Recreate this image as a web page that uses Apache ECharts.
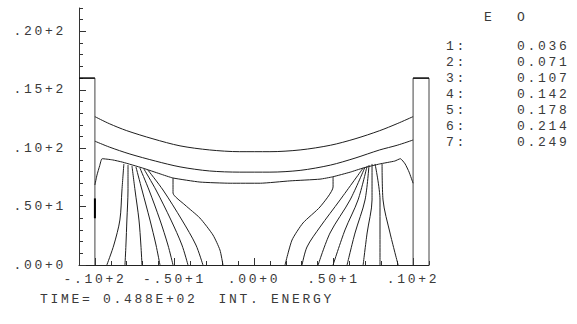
<!DOCTYPE html>
<html><head><meta charset="utf-8">
<script src="https://cdn.jsdelivr.net/npm/echarts@6/dist/echarts.min.js"></script>
<style>
html,body{margin:0;padding:0;background:#fff;}
#c{width:577px;height:324px;}
#c text{letter-spacing:2.7px;}
</style></head>
<body><div id="c"></div>
<script>
// ---- data ----
const xRange = [-11, 11];
const yRange = [0, 22];
const xTickValues = [-10, -5, 0, 5, 10];
const xTickLabels = ['-.10+2', '-.50+1', '.00+0', '.50+1', '.10+2'];
const yTickValues = [0, 5, 10, 15, 20];
const yTickLabels = ['.00+0', '.50+1', '.10+2', '.15+2', '.20+2'];
const legendHeader = ['E', 'O'];
const levelIds = ['1:', '2:', '3:', '4:', '5:', '6:', '7:'];
const levelValues = ['0.036', '0.071', '0.107', '0.142', '0.178', '0.214', '0.249'];
const titleText = 'TIME= 0.488E+02  INT. ENERGY';

const leftWall = [[-11, 16], [-10, 16], [-10, 0]];
const rightWall = [[10, 0], [10, 16], [11, 16], [11, 0]];
const leftMark = [[-10, 4.0], [-10, 5.7]];

const arc1 = [[-10,12.7],[-9.1,12.1],[-8,11.5],[-6.35,10.8],[-4.65,10.2],[-2.8,9.85],[-0.9,9.7],[1,9.7],[2.9,9.85],[4.8,10.25],[6.35,10.8],[7.9,11.5],[9,12.1],[10,12.7]];
const arc2 = [[-10,10.6],[-9.1,10.1],[-7.8,9.5],[-6.2,8.9],[-4.65,8.4],[-2.8,8.05],[-0.9,7.95],[1,7.95],[2.9,8.1],[4.8,8.55],[6.35,9.15],[7.9,9.85],[9,10.25],[10,10.7]];
const arc3 = [[-10,6.85],[-9.87,7.7],[-9.7,8.5],[-9.55,9.1],[-8.9,9.0],[-8.25,8.8],[-7,8.3],[-5.9,7.8],[-5.1,7.45],[-3.4,7.1],[-1.5,7.0],[0.4,7.0],[2.25,7.2],[4.15,7.35],[4.95,7.55],[6.05,7.95],[6.85,8.3],[7.9,8.65],[8.85,8.9],[9.2,9.1],[9.5,8.65],[9.75,7.95],[10,7.0]];

const leftFan = [
  [[-8.18,8.65],[-8.3,6.42],[-8.43,3.85],[-8.81,1.71],[-9.25,0]],
  [[-7.92,8.56],[-7.92,6.42],[-7.99,3.85],[-8.05,1.71],[-8.11,0]],
  [[-7.67,8.48],[-7.48,6.42],[-7.23,3.85],[-7.11,1.71],[-7.04,0]],
  [[-7.42,8.39],[-7.04,6.42],[-6.54,3.85],[-6.16,1.71],[-5.91,0]],
  [[-7.17,8.3],[-6.6,6.42],[-5.91,3.85],[-5.41,1.71],[-5.09,0]],
  [[-6.92,8.22],[-6.16,6.42],[-5.22,3.85],[-4.53,1.71],[-4.15,0]],
  [[-6.67,8.13],[-5.72,6.42],[-4.53,3.85],[-3.65,1.71],[-3.21,0]]
];
const leftNotch = [[-5.09,7.45],[-5.09,6.16],[-4.34,5.14],[-3.4,4.02],[-2.58,2.57],[-2.14,1.28],[-1.95,0]];

const rightFan = [
  [[6.86,8.3],[5.41,5.57],[4.15,3.25],[3.33,1.54],[3.02,0]],
  [[6.98,8.39],[6.04,5.57],[4.78,2.74],[4.03,0]],
  [[7.11,8.48],[6.54,5.57],[5.72,3.0],[4.97,0]],
  [[7.23,8.56],[6.98,5.57],[6.35,2.74],[5.85,0]],
  [[7.42,8.65],[7.42,5.57],[7.11,2.74],[6.86,0]],
  [[7.61,8.65],[7.92,5.57],[7.92,2.74],[7.92,0]],
  [[8.05,8.65],[8.11,5.57],[8.55,2.74],[9.06,0]]
];
const rightNotch = [[4.97,7.53],[4.97,6.68],[4.15,4.97],[3.08,3.6],[2.39,2.14],[1.95,0]];

// ---- chart ----
const FONT = 'Liberation Mono';
const TXT = '#3a3a3a';
const LINE = '#1e1e1e';
function lineSeries(data, opt) {
  return Object.assign({
    type: 'line', data: data, symbol: 'none', silent: true,
    xAxisIndex: 0, yAxisIndex: 0, smooth: 0.3,
    lineStyle: { color: LINE, width: 1 }
  }, opt || {});
}
const series = [];
series.push(lineSeries(leftWall, { smooth: false, lineStyle: { color: '#444', width: 1 } }));
series.push(lineSeries(rightWall, { smooth: false, lineStyle: { color: '#444', width: 1 } }));
series.push(lineSeries([leftWall[0], leftWall[1]], { smooth: false, lineStyle: { color: '#000', width: 1.3 } }));
series.push(lineSeries([rightWall[1], rightWall[2]], { smooth: false, lineStyle: { color: '#000', width: 1.3 } }));
series.push(lineSeries(leftMark, { smooth: false, lineStyle: { color: '#000', width: 2 } }));
series.push(lineSeries(arc1));
series.push(lineSeries(arc2));
series.push(lineSeries(arc3, { smooth: 0.15 }));
leftFan.forEach(f => series.push(lineSeries(f)));
rightFan.forEach(f => series.push(lineSeries(f)));
series.push(lineSeries(leftNotch, { smooth: 0.2 }));
series.push(lineSeries(rightNotch, { smooth: 0.2 }));

const graphics = [];
graphics.push({ type: 'text', left: 484, top: 11, style: { text: legendHeader[0], font: '13px ' + FONT, fill: TXT } });
graphics.push({ type: 'text', left: 517, top: 11, style: { text: legendHeader[1], font: '13px ' + FONT, fill: TXT } });
levelIds.forEach((id, i) => {
  graphics.push({ type: 'text', left: 446, top: 40 + i * 16, style: { text: id, font: '13px ' + FONT, fill: TXT } });
  graphics.push({ type: 'text', left: 517, top: 40 + i * 16, style: { text: levelValues[i], font: '13px ' + FONT, fill: TXT } });
});
graphics.push({ type: 'text', left: 40, top: 293, style: { text: titleText, font: '13px ' + FONT, fill: TXT } });

const chart = echarts.init(document.getElementById('c'), null, { renderer: 'svg' });
chart.setOption({
  animation: false,
  backgroundColor: '#fff',
  grid: { left: 79, right: 148, top: 8, bottom: 59 },
  xAxis: [
    { type: 'value', min: xRange[0], max: xRange[1], position: 'bottom',
      splitLine: { show: false },
      axisLine: { onZero: false, lineStyle: { color: '#222', width: 1 } },
      axisTick: { inside: true, length: 7, customValues: xTickValues, lineStyle: { color: '#333' } },
      axisLabel: { customValues: xTickValues, margin: 8, color: TXT, fontFamily: FONT, fontSize: 13,
        formatter: v => xTickLabels[xTickValues.indexOf(v)] || '' } },
    { type: 'value', min: xRange[0], max: xRange[1], interval: 1, position: 'bottom',
      splitLine: { show: false }, axisLine: { show: false, onZero: false }, axisLabel: { show: false },
      axisTick: { inside: true, length: 4, lineStyle: { color: '#333' } } }
  ],
  yAxis: [
    { type: 'value', min: yRange[0], max: yRange[1], position: 'left',
      splitLine: { show: false },
      axisLine: { show: true, onZero: false, lineStyle: { color: '#333', width: 1 } },
      axisTick: { show: true, inside: true, length: 7, customValues: yTickValues, lineStyle: { color: '#333' } },
      axisLabel: { customValues: yTickValues, margin: 13, color: TXT, fontFamily: FONT, fontSize: 13,
        formatter: v => yTickLabels[yTickValues.indexOf(v)] || '' } },
    { type: 'value', min: yRange[0], max: yRange[1], interval: 1, position: 'left',
      splitLine: { show: false }, axisLine: { show: false, onZero: false }, axisLabel: { show: false },
      axisTick: { show: true, inside: true, length: 4, lineStyle: { color: '#333' } } }
  ],
  series: series,
  graphic: graphics
});
</script>
</body></html>
